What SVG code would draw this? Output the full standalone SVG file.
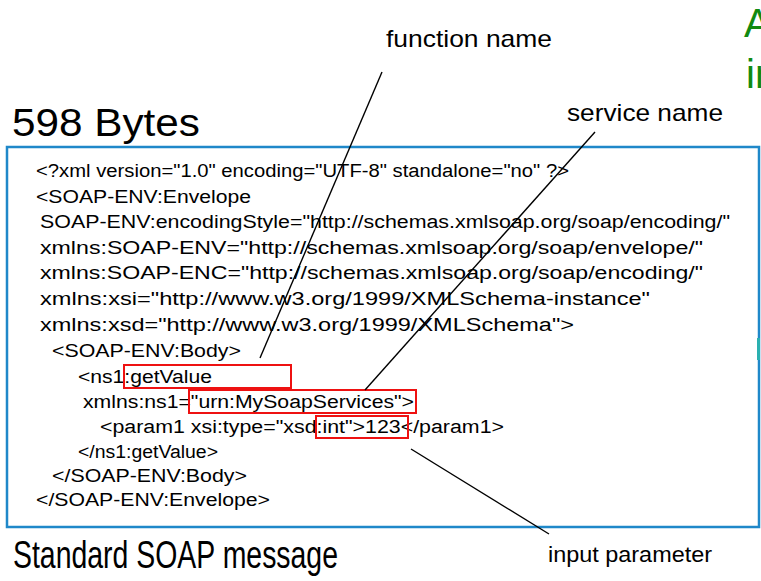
<svg xmlns="http://www.w3.org/2000/svg" width="761" height="581" viewBox="0 0 761 581">
  <style>
    .code { font-family: "Liberation Sans", Arial, sans-serif; font-size: 18px; fill: #000; }
    .label { font-family: "Liberation Sans", Arial, sans-serif; fill: #000; }
    .big { font-family: "Liberation Sans", Arial, sans-serif; font-size: 38px; fill: #000; }
    .green { font-family: "Liberation Sans", Arial, sans-serif; font-size: 40px; fill: #118a11; }
    .hl { fill: none; stroke: #ee1111; stroke-width: 2; }
    .lead { stroke: #000; stroke-width: 1.4; fill: none; }
  </style>
  <rect width="761" height="581" fill="#fff"/>

  <!-- partially visible heading at the right edge -->
  <g id="heading">
    <text class="green" x="744" y="37">A</text>
    <text class="green" x="746" y="88">in</text>
  </g>

  <g id="size-label">
    <text class="big" x="12" y="136" font-size="34" textLength="188" lengthAdjust="spacingAndGlyphs">598 Bytes</text>
  </g>

  <!-- message frame with the XML listing -->
  <g id="message">
    <rect x="7" y="147" width="752" height="380" fill="#fff" stroke="#1f88c9" stroke-width="2.5"/>
    <rect x="757" y="338" width="3" height="22" fill="#2ab0b0"/>
    <text class="code" x="36" y="177" textLength="533" lengthAdjust="spacingAndGlyphs">&lt;?xml version="1.0" encoding="UTF-8" standalone="no" ?&gt;</text>
    <text class="code" x="36" y="203" textLength="215" lengthAdjust="spacingAndGlyphs">&lt;SOAP-ENV:Envelope</text>
    <text class="code" x="40" y="228" textLength="690" lengthAdjust="spacingAndGlyphs">SOAP-ENV:encodingStyle="http://schemas.xmlsoap.org/soap/encoding/"</text>
    <text class="code" x="40" y="254" textLength="663" lengthAdjust="spacingAndGlyphs">xmlns:SOAP-ENV="http://schemas.xmlsoap.org/soap/envelope/"</text>
    <text class="code" x="40" y="279" textLength="663" lengthAdjust="spacingAndGlyphs">xmlns:SOAP-ENC="http://schemas.xmlsoap.org/soap/encoding/"</text>
    <text class="code" x="40" y="305" textLength="610" lengthAdjust="spacingAndGlyphs">xmlns:xsi="http://www.w3.org/1999/XMLSchema-instance"</text>
    <text class="code" x="40" y="331" textLength="534" lengthAdjust="spacingAndGlyphs">xmlns:xsd="http://www.w3.org/1999/XMLSchema"&gt;</text>
    <text class="code" x="52" y="357" textLength="189" lengthAdjust="spacingAndGlyphs">&lt;SOAP-ENV:Body&gt;</text>
    <text class="code" x="78" y="383" textLength="134" lengthAdjust="spacingAndGlyphs">&lt;ns1:getValue</text>
    <text class="code" x="83" y="408" textLength="331" lengthAdjust="spacingAndGlyphs">xmlns:ns1="urn:MySoapServices"&gt;</text>
    <text class="code" x="100" y="433" textLength="404" lengthAdjust="spacingAndGlyphs">&lt;param1 xsi:type="xsd:int"&gt;123&lt;/param1&gt;</text>
    <text class="code" x="78" y="458" textLength="140" lengthAdjust="spacingAndGlyphs">&lt;/ns1:getValue&gt;</text>
    <text class="code" x="52" y="482" textLength="195" lengthAdjust="spacingAndGlyphs">&lt;/SOAP-ENV:Body&gt;</text>
    <text class="code" x="36" y="506" textLength="234" lengthAdjust="spacingAndGlyphs">&lt;/SOAP-ENV:Envelope&gt;</text>
  </g>

  <!-- highlighted parts of the listing -->
  <g id="highlights">
    <rect class="hl" x="124" y="365" width="167" height="23"/>
    <rect class="hl" x="189" y="390" width="227" height="23"/>
    <rect class="hl" x="316" y="416" width="92" height="22"/>
  </g>

  <g id="function-name">
    <text class="label" x="386" y="47" font-size="24" textLength="166" lengthAdjust="spacingAndGlyphs">function name</text>
  </g>
  <g id="service-name">
    <text class="label" x="567" y="121" font-size="24" textLength="156" lengthAdjust="spacingAndGlyphs">service name</text>
  </g>
  <g id="input-parameter">
    <text class="label" x="548" y="562" font-size="22" textLength="164" lengthAdjust="spacingAndGlyphs">input parameter</text>
  </g>

  <g id="caption">
    <text class="big" x="13" y="568" textLength="325" lengthAdjust="spacingAndGlyphs">Standard SOAP message</text>
  </g>

  <!-- leader lines from labels to the highlighted parts -->
  <g id="connectors">
    <line class="lead" x1="382" y1="72" x2="260" y2="358"/>
    <line class="lead" x1="595" y1="132" x2="365" y2="390"/>
    <line class="lead" x1="411" y1="449" x2="549" y2="534"/>
  </g>
</svg>
